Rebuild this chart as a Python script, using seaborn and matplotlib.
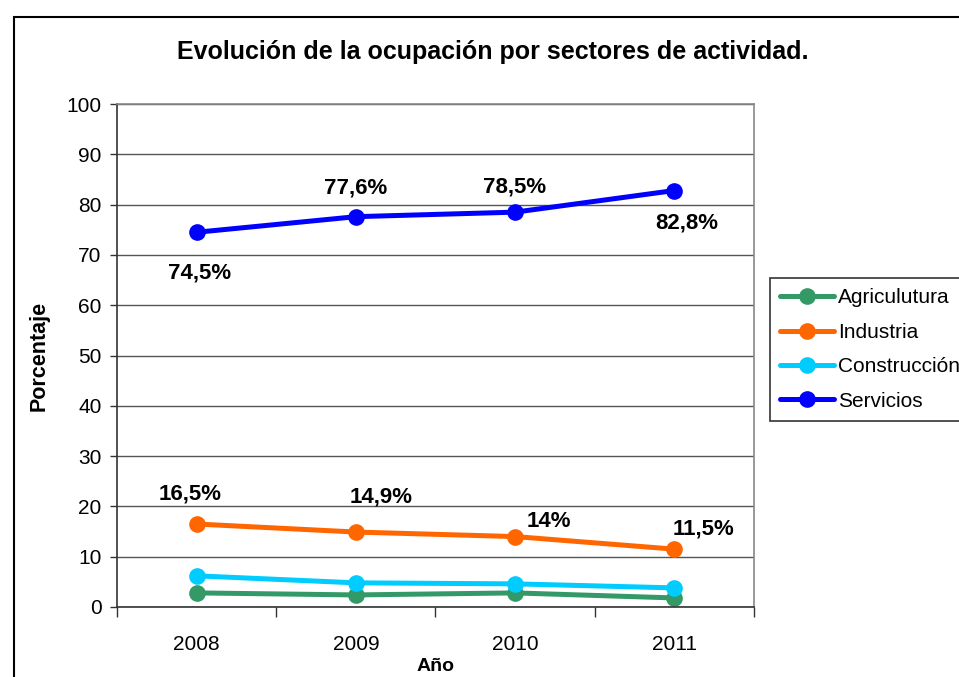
import matplotlib
matplotlib.use("Agg")
import matplotlib.pyplot as plt
from matplotlib.patches import Rectangle
import pandas as pd
import seaborn as sns

# data
years = ["2008", "2009", "2010", "2011"]
agricultura = [2.8, 2.4, 2.8, 1.8]
industria = [16.5, 14.9, 14.0, 11.5]
construccion = [6.2, 4.8, 4.6, 3.8]
servicios = [74.5, 77.6, 78.5, 82.8]
sectors = ["Agriculutura", "Industria", "Construcción", "Servicios"]
colors = ["#339966", "#FF6600", "#00CCFF", "#0000FF"]

serv_labels = ["74,5%", "77,6%", "78,5%", "82,8%"]
ind_labels = ["16,5%", "14,9%", "14%", "11,5%"]

rows = []
for name, vals in zip(sectors, [agricultura, industria, construccion, servicios]):
    for i, v in enumerate(vals):
        rows.append({"pos": i, "year": years[i], "sector": name, "value": v})
df = pd.DataFrame(rows)

sns.set_style("white")
plt.rcParams["font.family"] = ["Liberation Sans", "DejaVu Sans"]
plt.rcParams["text.color"] = "black"
plt.rcParams["axes.labelcolor"] = "black"
plt.rcParams["xtick.labelcolor"] = "black"
plt.rcParams["ytick.labelcolor"] = "black"

W, H = 959, 677
fig = plt.figure(figsize=(W / 100, H / 100), dpi=100)
ax = fig.add_axes([117 / W, 1 - 607 / H, (754 - 117) / W, (607 - 104) / H])

sns.lineplot(data=df, x="pos", y="value", hue="sector", hue_order=sectors,
             palette=colors, marker="o", markersize=12, markeredgewidth=0,
             linewidth=3.6, ax=ax, legend=True)

ax.set_xlim(-0.5, 3.5)
ax.set_ylim(0, 100)
ax.set_yticks(range(0, 101, 10))
ax.grid(axis="y", color="#555555", linewidth=1)
ax.set_axisbelow(True)
ax.set_xticks(range(4))
ax.set_xticklabels(years)
ax.set_xticks([-0.5, 0.5, 1.5, 2.5, 3.5], minor=True)
ax.tick_params(axis="x", which="major", length=0, pad=20, labelsize=15)
ax.tick_params(axis="x", which="minor", length=7, width=1, color="#333333", direction="out")
ax.tick_params(axis="y", length=5, width=1, color="#333333", direction="out", labelsize=15, pad=6)
ax.tick_params(axis="both", left=True, bottom=True, which="both")

for s in ["left", "bottom"]:
    ax.spines[s].set_color("#333333")
    ax.spines[s].set_linewidth(1.2)
for s in ["top", "right"]:
    ax.spines[s].set_visible(True)
    ax.spines[s].set_color("#888888")
    ax.spines[s].set_linewidth(1.2)

ax.set_xlabel("Año", fontsize=14, fontweight="bold", labelpad=3)
ax.set_ylabel("Porcentaje", fontsize=15.5, fontweight="bold", labelpad=12)

# data labels
serv_off = [(3, -41), (0, 29), (-1, 25), (12, -32)]
for i, (lab, off) in enumerate(zip(serv_labels, serv_off)):
    ax.annotate(lab, (i, servicios[i]), xytext=off, textcoords="offset pixels",
                ha="center", va="center", fontsize=16, fontweight="bold")
ind_off = [(-6, 30), (25, 35), (34, 15), (29, 20)]
for i, (lab, off) in enumerate(zip(ind_labels, ind_off)):
    ax.annotate(lab, (i, industria[i]), xytext=off, textcoords="offset pixels",
                ha="center", va="center", fontsize=16, fontweight="bold")

fig.text(493 / W, 1 - 52 / H, "Evolución de la ocupación por sectores de actividad.",
         ha="center", va="center", fontsize=18, fontweight="bold")

# legend
leg = ax.legend(loc="upper left", bbox_to_anchor=(770 / W, 1 - 278 / H),
                bbox_transform=fig.transFigure, frameon=True, fancybox=False,
                fontsize=15, handlelength=2.55, handletextpad=0.2,
                borderpad=0.5, labelspacing=0.74, borderaxespad=0)
leg.get_frame().set_edgecolor("black")
leg.get_frame().set_linewidth(1.2)

# outer chart frame
fig.patches.append(Rectangle((14 / W, -0.05), 1.0, 1 - 17 / H + 0.05,
                             transform=fig.transFigure, fill=False,
                             edgecolor="black", linewidth=1.5))

fig.savefig("out.png", dpi=100)
